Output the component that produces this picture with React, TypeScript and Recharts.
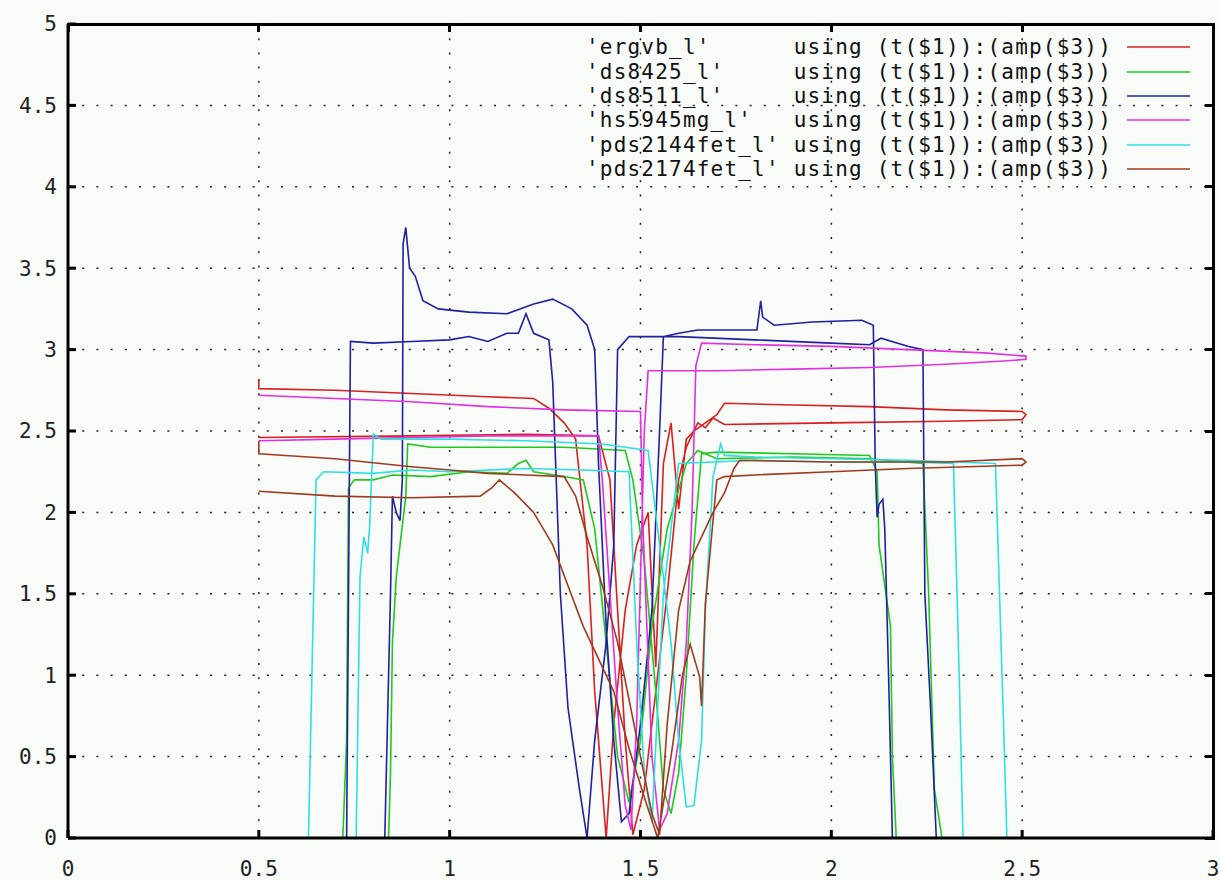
import { LineChart, Line, XAxis, YAxis, CartesianGrid, Legend } from "recharts";

// gnuplot style amplitude loops, x = t, y = amp
const xTicks = [0, 0.5, 1, 1.5, 2, 2.5, 3];
const yTicks = [0, 0.5, 1, 1.5, 2, 2.5, 3, 3.5, 4, 4.5, 5];

const seriesNames = ["ergvb_l", "ds8425_l", "ds8511_l", "hs5945mg_l", "pds2144fet_l", "pds2174fet_l"];
const seriesColors = ["#d82020", "#20c820", "#2020a0", "#e030e0", "#30e0e0", "#a03a20"];

const ergvb = [
  [0.5, 2.82], [0.5, 2.76], [0.7, 2.75], [0.9, 2.73], [1.1, 2.71], [1.22, 2.7], [1.26, 2.64],
  [1.3, 2.55], [1.33, 2.45], [1.36, 1.8], [1.38, 0.9], [1.41, 0], [1.43, 0.7], [1.46, 1.4],
  [1.49, 1.8], [1.52, 2.0], [1.54, 1.05], [1.56, 2.3], [1.58, 2.55], [1.6, 2.02], [1.62, 2.45],
  [1.64, 2.5], [1.67, 2.55], [1.7, 2.6], [1.72, 2.67], [1.9, 2.66], [2.1, 2.65], [2.3, 2.63],
  [2.5, 2.62], [2.51, 2.6], [2.5, 2.57], [2.3, 2.56], [2.0, 2.55], [1.72, 2.54], [1.69, 2.58],
  [1.67, 2.52], [1.65, 2.55], [1.62, 2.4], [1.6, 2.2], [1.57, 1.5], [1.54, 0.9], [1.51, 0.3],
  [1.48, 0.02], [1.46, 0.6], [1.44, 1.4], [1.42, 2.2], [1.39, 2.47], [1.2, 2.48], [0.9, 2.47],
  [0.5, 2.46],
];

const ds8425 = [
  [0.5, 0], [0.72, 0], [0.73, 0.6], [0.735, 2.15], [0.75, 2.2], [0.8, 2.2], [0.85, 2.23],
  [0.95, 2.22], [1.05, 2.25], [1.15, 2.24], [1.18, 2.3], [1.2, 2.32], [1.22, 2.25], [1.3, 2.22],
  [1.35, 2.2], [1.38, 1.9], [1.41, 1.2], [1.44, 0.5], [1.47, 0.22], [1.5, 0.6], [1.53, 1.3],
  [1.57, 1.9], [1.62, 2.3], [1.65, 2.38], [1.7, 2.33], [1.9, 2.34], [2.1, 2.33], [2.24, 2.3],
  [2.255, 1.5], [2.27, 0.3], [2.29, 0], [2.5, 0], [2.17, 0], [2.16, 0.5], [2.155, 1.3],
  [2.14, 1.55], [2.125, 1.8], [2.12, 2.25], [2.1, 2.35], [1.9, 2.36], [1.7, 2.37], [1.66, 2.36],
  [1.64, 1.8], [1.62, 1.0], [1.6, 0.4], [1.58, 0.15], [1.56, 0.3], [1.54, 0.9], [1.51, 1.7],
  [1.48, 2.2], [1.46, 2.38], [1.3, 2.4], [1.1, 2.4], [0.95, 2.4], [0.89, 2.42], [0.885, 2.1],
  [0.875, 1.9], [0.86, 1.6], [0.85, 1.2], [0.845, 0.4], [0.84, 0], [0.5, 0],
];

const ds8511 = [
  [0.5, 0], [0.73, 0], [0.74, 3.05], [0.8, 3.04], [0.9, 3.05], [1.0, 3.06], [1.05, 3.08],
  [1.1, 3.05], [1.15, 3.1], [1.18, 3.1], [1.2, 3.22], [1.22, 3.1], [1.26, 3.06], [1.27, 2.8],
  [1.29, 1.5], [1.31, 0.8], [1.34, 0.3], [1.36, 0], [1.38, 0.6], [1.41, 1.2], [1.43, 1.8],
  [1.44, 3.0], [1.47, 3.08], [1.6, 3.08], [1.8, 3.06], [2.0, 3.04], [2.1, 3.03], [2.13, 3.07],
  [2.2, 3.02], [2.24, 3.0], [2.245, 1.5], [2.26, 0.8], [2.275, 0], [2.5, 0], [2.16, 0],
  [2.15, 1.0], [2.14, 1.9], [2.135, 2.08], [2.125, 2.05], [2.12, 1.97], [2.115, 2.3], [2.11, 3.15],
  [2.08, 3.18], [1.95, 3.17], [1.85, 3.15], [1.82, 3.2], [1.815, 3.3], [1.805, 3.12], [1.75, 3.12],
  [1.65, 3.12], [1.6, 3.1], [1.56, 3.08], [1.55, 2.5], [1.53, 1.4], [1.5, 0.7], [1.47, 0.15],
  [1.45, 0.1], [1.43, 0.6], [1.41, 1.3], [1.39, 2.3], [1.38, 3.0], [1.36, 3.15], [1.32, 3.25],
  [1.27, 3.31], [1.22, 3.28], [1.15, 3.22], [1.05, 3.23], [0.97, 3.25], [0.93, 3.3], [0.91, 3.45],
  [0.895, 3.5], [0.885, 3.75], [0.878, 3.65], [0.876, 2.2], [0.87, 1.95], [0.86, 2.0], [0.85, 2.1],
  [0.845, 1.5], [0.83, 0], [0.5, 0],
];

const hs5945mg = [
  [0.5, 2.44], [0.7, 2.45], [0.9, 2.46], [1.1, 2.47], [1.3, 2.47], [1.39, 2.47], [1.4, 2.2],
  [1.42, 1.5], [1.44, 0.8], [1.46, 0.2], [1.475, 0.05], [1.49, 0.7], [1.5, 1.6], [1.51, 2.5],
  [1.52, 2.87], [1.7, 2.87], [1.9, 2.88], [2.1, 2.89], [2.3, 2.91], [2.45, 2.93], [2.51, 2.94],
  [2.51, 2.96], [2.4, 2.98], [2.2, 3.0], [2.0, 3.02], [1.8, 3.03], [1.66, 3.04], [1.645, 2.9],
  [1.635, 2.0], [1.62, 1.2], [1.6, 0.6], [1.57, 0.15], [1.55, 0.05], [1.53, 0.5], [1.515, 1.4],
  [1.505, 2.0], [1.5, 2.62], [1.3, 2.63], [1.1, 2.65], [0.9, 2.68], [0.7, 2.7], [0.5, 2.72],
];

const pds2144fet = [
  [0.5, 0], [0.63, 0], [0.65, 2.2], [0.67, 2.25], [0.8, 2.24], [0.9, 2.26], [1.0, 2.25],
  [1.2, 2.27], [1.35, 2.26], [1.47, 2.25], [1.49, 1.2], [1.51, 0.4], [1.53, 0.1], [1.56, 1.5],
  [1.6, 2.3], [1.8, 2.32], [2.0, 2.31], [2.2, 2.31], [2.32, 2.3], [2.335, 1.0], [2.345, 0],
  [2.5, 0], [2.46, 0], [2.45, 0.8], [2.43, 2.3], [2.2, 2.32], [2.0, 2.33], [1.8, 2.34], [1.72, 2.35],
  [1.71, 2.42], [1.69, 2.22], [1.67, 1.4], [1.66, 0.6], [1.64, 0.2], [1.62, 0.19], [1.6, 0.6],
  [1.58, 1.2], [1.55, 1.8], [1.52, 2.38], [1.4, 2.42], [1.2, 2.44], [1.0, 2.45], [0.82, 2.45],
  [0.8, 2.48], [0.79, 1.9], [0.785, 1.75], [0.775, 1.85], [0.765, 1.6], [0.755, 0], [0.5, 0],
];

const pds2174fet = [
  [0.5, 2.44], [0.5, 2.36], [0.7, 2.33], [0.9, 2.28], [1.0, 2.26], [1.1, 2.24], [1.2, 2.23],
  [1.3, 2.22], [1.33, 2.1], [1.36, 1.85], [1.4, 1.55], [1.44, 1.2], [1.47, 0.85], [1.5, 0.5],
  [1.53, 0.15], [1.55, 0.02], [1.57, 0.7], [1.6, 1.4], [1.63, 1.7], [1.66, 1.85], [1.69, 2.0],
  [1.72, 2.12], [1.745, 2.27], [1.76, 2.32], [2.0, 2.31], [2.3, 2.31], [2.5, 2.33], [2.51, 2.31],
  [2.5, 2.29], [2.2, 2.27], [2.0, 2.25], [1.8, 2.23], [1.72, 2.22], [1.7, 2.2], [1.69, 1.95],
  [1.67, 1.44], [1.66, 0.81], [1.655, 0.99], [1.63, 1.19], [1.61, 1.0], [1.58, 0.5], [1.545, 0],
  [1.51, 0.25], [1.47, 0.55], [1.43, 0.9], [1.39, 1.1], [1.35, 1.3], [1.31, 1.55], [1.27, 1.8],
  [1.22, 2.0], [1.17, 2.12], [1.13, 2.2], [1.11, 2.15], [1.08, 2.1], [0.9, 2.09], [0.7, 2.1],
  [0.5, 2.13],
];

const seriesPoints = [ergvb, ds8425, ds8511, hs5945mg, pds2144fet, pds2174fet];

const W = 1220;
const H = 880;
const X_MAX = 3;
const Y_MAX = 5;
// plot box: left = y axis width, bottom = x axis height
const PAD = { top: 24, right: 7, left: 68, bottom: 42 };
const PLOT_W = W - PAD.left - PAD.right;
const PLOT_H = H - PAD.top - PAD.bottom;
const TICK_LEN = 8;

const FONT = "'DejaVu Sans Mono', monospace";
const AXIS = { stroke: "#000", strokeWidth: 3 };

// gnuplot closes the border and mirrors the ticks inward on top and right;
// drawn with plain divs so it does not depend on extra recharts axes
function Frame() {
  const right = PAD.left + PLOT_W;
  const bar = (key: string, left: number, top: number, width: number, height: number) => (
    <div key={key} style={{ position: "absolute", left, top, width, height, background: "#000" }} />
  );
  return (
    <div style={{ position: "absolute", left: 0, top: 0, width: W, height: H, pointerEvents: "none" }}>
      {bar("top", PAD.left - 1.5, PAD.top - 1.5, PLOT_W + 3, 3)}
      {bar("right", right - 1.5, PAD.top - 1.5, 3, PLOT_H + 3)}
      {xTicks.map((t) => bar(`tx${t}`, PAD.left + (t / X_MAX) * PLOT_W - 1.5, PAD.top, 3, TICK_LEN))}
      {yTicks.map((t) => bar(`ty${t}`, right - TICK_LEN, PAD.top + (1 - t / Y_MAX) * PLOT_H - 1.5, TICK_LEN, 3))}
    </div>
  );
}

function renderLegend() {
  const keyWidth = Math.max(...seriesNames.map((n) => n.length)) + 2;
  return (
    <div style={{ fontFamily: FONT, fontSize: 21, letterSpacing: "1.2px", color: "#111" }}>
      {seriesNames.map((name, i) => (
        <div key={name} style={{ display: "flex", alignItems: "center", height: 24.4 }}>
          <span style={{ whiteSpace: "pre" }}>
            {`'${name}'`.padEnd(keyWidth) + " using (t($1)):(amp($3))"}
          </span>
          <svg width={78} height={6}>
            <line x1={15} x2={78} y1={3} y2={3} stroke={seriesColors[i]} strokeWidth={1.6} />
          </svg>
        </div>
      ))}
    </div>
  );
}

export default function App() {
  const tickStyle = { fontFamily: FONT, fontSize: 21, fill: "#222" };
  const rows = seriesPoints.map((pts) => pts.map(([x, y]) => ({ x, y })));
  return (
    <div style={{ position: "absolute", left: 0, top: 0, width: W, height: H, background: "#f8fbf8" }}>
      <LineChart width={W} height={H} margin={{ top: PAD.top, right: PAD.right, bottom: 0, left: 0 }}>
        <CartesianGrid stroke="#222" strokeWidth={1.5} strokeDasharray="2 12.2" />
        <XAxis
          type="number"
          dataKey="x"
          domain={[0, X_MAX]}
          ticks={xTicks}
          height={PAD.bottom}
          tickSize={-TICK_LEN}
          tickMargin={31}
          tick={tickStyle}
          tickLine={AXIS}
          axisLine={AXIS}
        />
        <YAxis
          type="number"
          domain={[0, Y_MAX]}
          ticks={yTicks}
          width={PAD.left}
          tickSize={-TICK_LEN}
          tickMargin={19}
          tick={tickStyle}
          tickLine={AXIS}
          axisLine={AXIS}
        />
        {rows.map((data, i) => (
          <Line
            key={seriesNames[i]}
            name={seriesNames[i]}
            data={data}
            dataKey="y"
            type="linear"
            stroke={seriesColors[i]}
            strokeWidth={1.6}
            dot={false}
            activeDot={false}
            isAnimationActive={false}
          />
        ))}
        <Legend
          layout="horizontal"
          verticalAlign="middle"
          align="center"
          content={renderLegend}
          wrapperStyle={{ top: 35, left: 586, width: 620 }}
        />
      </LineChart>
      <Frame />
    </div>
  );
}
